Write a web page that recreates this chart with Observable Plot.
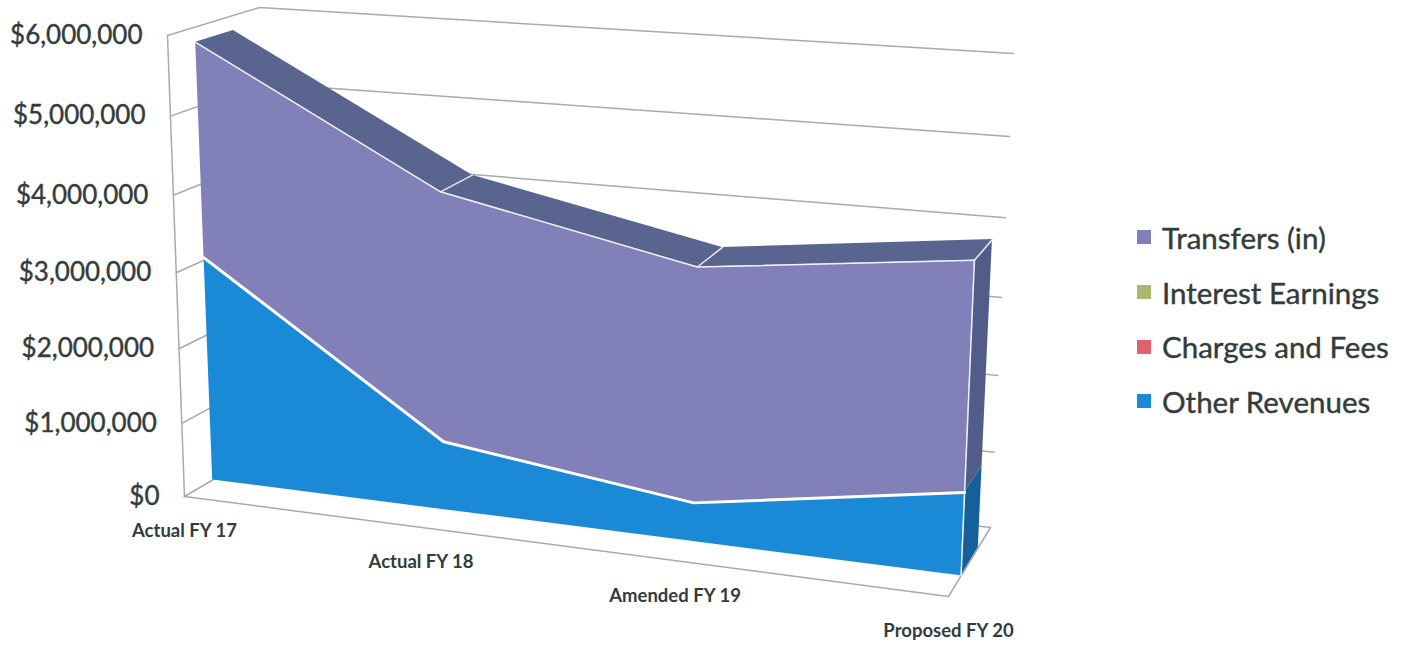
<!DOCTYPE html>
<html>
<head>
<meta charset="utf-8">
<script src="https://cdn.jsdelivr.net/npm/d3@7"></script>
<script src="https://cdn.jsdelivr.net/npm/@observablehq/plot@0.6"></script>
<style>
  html, body { margin: 0; background: #fff; }
  #chart { position: relative; width: 1410px; height: 647px; overflow: hidden; }
  #chart svg { display: block; }
  #key { position: absolute; left: 1137px; top: 210px; }
  #key .rev-swatches { margin: 0 !important; min-height: 0 !important; font: 29.5px Lato, sans-serif; color: #333c3c; -webkit-text-stroke: 0.4px #333c3c; display: block; }
  #key .rev-swatch { display: flex; align-items: center; height: 54.7px; padding: 0 !important; margin: 0 !important; white-space: nowrap; }
  #key .rev-swatch svg { margin-right: 11px !important; }
</style>
</head>
<body>
<div id="chart"></div>
<script>
const categories = ["Actual FY 17", "Actual FY 18", "Amended FY 19", "Proposed FY 20"];
const otherRevenues = [3030000, 920000, 510000, 1060000];
const chargesAndFees = [0, 0, 0, 0];
const interestEarnings = [0, 0, 0, 0];
const transfersIn = [2780000, 3250000, 3010000, 2850000];
const valueTicks = [0, 1000000, 2000000, 3000000, 4000000, 5000000, 6000000];

const seriesNames = ["Other Revenues", "Charges and Fees", "Interest Earnings", "Transfers (in)"];
const seriesValues = [otherRevenues, chargesAndFees, interestEarnings, transfersIn];
const seriesColors = ["#1b8ad6", "#e0606b", "#a9ba6e", "#8180b8"];
const sideColors = ["#155f9b", "#a04450", "#7b8850", "#515c88"];
const valueMax = 6000000;

// Box corners of the 3-D chart space, as seen by the camera.
const box = {
  floorFrontLeft: [184, 496], floorFrontRight: [948, 596],
  floorBackLeft: [278, 441], floorBackRight: [990, 527],
  topFrontLeft: [167, 35], topFrontRight: [968, 93],
  topBackLeft: [259, 7], topBackRight: [1013, 53]
};
const categoryPerspective = 1.115;
const valuePerspective = 1.06;
const faceDepth = 0.3;
const rearDepth = 0.71;

const foreshorten = (t, w) => t / (t + (1 - t) * w);
const mix = (a, b, t) => [a[0] + (b[0] - a[0]) * t, a[1] + (b[1] - a[1]) * t];

// Maps category index, value and depth (0 front, 1 back) to drawing coordinates.
function project(index, value, depth) {
  const u = foreshorten(index / (categories.length - 1), categoryPerspective);
  const v = foreshorten(value / valueMax, valuePerspective);
  const floor = mix(mix(box.floorFrontLeft, box.floorFrontRight, u), mix(box.floorBackLeft, box.floorBackRight, u), depth);
  const top = mix(mix(box.topFrontLeft, box.topFrontRight, u), mix(box.topBackLeft, box.topBackRight, u), depth);
  return mix(floor, top, v);
}
const point = (index, value, depth, extra = {}) => {
  const [x, y] = project(index, value, depth);
  return {x, y, ...extra};
};

// Stack the series bottom-up.
const last = categories.length - 1;
const cumulative = categories.map(() => 0);
const bands = [];
seriesNames.forEach((series, s) => {
  categories.forEach((category, i) => {
    const low = cumulative[i];
    const high = low + seriesValues[s][i];
    cumulative[i] = high;
    bands.push({series, s, i, low, high});
  });
});
const totals = cumulative.slice();

// Front faces of the stacked bands.
const frontFaces = bands.map((b) => {
  const [x1, y1] = project(b.i, b.low, faceDepth);
  const [x2, y2] = project(b.i, b.high, faceDepth);
  return {series: b.series, x1, y1, x2, y2};
});

// Right-hand end caps running from the front face to the rear face.
const endCaps = bands.filter((b) => b.i === last).flatMap((b) =>
  [faceDepth, rearDepth].map((d) => {
    const [x1, y1] = project(last, b.low, d);
    const [x2, y2] = project(last, b.high, d);
    return {s: b.s, x1, y1, x2, y2};
  })
);

// Sloping ribbon along the top of the stack.
const ribbon = totals.map((t, i) => {
  const [x1, y1] = project(i, t, faceDepth);
  const [x2, y2] = project(i, t, rearDepth);
  return {x1, y1, x2, y2};
});

// Gridlines wrap the side wall and then the back wall.
const gridlines = valueTicks.flatMap((tick) => [
  point(0, tick, 0, {tick}),
  point(0, tick, 1, {tick}),
  point(last, tick, 1, {tick})
]);
const frame = [
  point(0, valueMax, 0, {edge: "axis"}), point(0, 0, 0, {edge: "axis"}),
  point(0, 0, 0, {edge: "floor"}), point(last, 0, 0, {edge: "floor"}), point(last, 0, 1, {edge: "floor"})
];
const creases = totals.flatMap((t, i) => i === 0 ? [] : [
  point(i, t, faceDepth, {i}), point(i, t, rearDepth, {i})
]);

const plot = Plot.plot({
  width: 1410,
  height: 647,
  margin: 0,
  x: {domain: [0, 1410], range: [0, 1410], axis: null},
  y: {domain: [0, 647], range: [0, 647], axis: null},
  color: {domain: seriesNames, range: seriesColors},
  style: {background: "#fff"},
  marks: [
    Plot.line(gridlines, {x: "x", y: "y", z: "tick", stroke: "#a9a9b0", strokeWidth: 1.5}),
    Plot.line(frame, {x: "x", y: "y", z: "edge", stroke: "#a9a9b0", strokeWidth: 1.5}),
    Plot.area(ribbon, {x1: "x1", y1: "y1", x2: "x2", y2: "y2", fill: "#59658f"}),
    seriesNames.map((name, s) =>
      Plot.area(endCaps.filter((d) => d.s === s), {x1: "x1", y1: "y1", x2: "x2", y2: "y2", fill: sideColors[s]})
    ),
    Plot.area(frontFaces, {x1: "x1", y1: "y1", x2: "x2", y2: "y2", fill: "series"}),
    Plot.line(creases, {x: "x", y: "y", z: "i", stroke: "#e8e8f2", strokeWidth: 1.5}),
    Plot.line(totals.map((t, i) => point(i, t, faceDepth)), {x: "x", y: "y", stroke: "#f1f1f8", strokeWidth: 1.5}),
    Plot.line(otherRevenues.map((t, i) => point(i, t, faceDepth)), {x: "x", y: "y", stroke: "#ffffff", strokeWidth: 3}),
    Plot.line([point(last, 0, faceDepth), point(last, totals[last], faceDepth)], {x: "x", y: "y", stroke: "#eef2fa", strokeWidth: 1.5}),
    Plot.text(valueTicks.map((tick) => point(0, tick, 0, {label: d3.format("$,")(tick)})), {
      x: "x", y: "y", text: "label", textAnchor: "end", dx: -25,
      fontFamily: "Lato, sans-serif", fontSize: 26, fill: "#333c3c", stroke: "#333c3c", strokeWidth: 0.4
    }),
    Plot.text(categories.map((label, i) => point(i, 0, 0, {label})), {
      x: "x", y: "y", text: "label", dy: 35,
      fontFamily: "Lato, sans-serif", fontSize: 18.5, fontWeight: 700, fill: "#333c3c"
    })
  ]
});

const chart = document.getElementById("chart");
chart.append(plot);

// Swatch legend, top of the stack first.
const key = document.createElement("div");
key.id = "key";
key.append(Plot.legend({
  color: {domain: seriesNames.slice().reverse(), range: seriesColors.slice().reverse()},
  legend: "swatches", columns: 1, swatchSize: 14, className: "rev"
}));
chart.append(key);
</script>
</body>
</html>
